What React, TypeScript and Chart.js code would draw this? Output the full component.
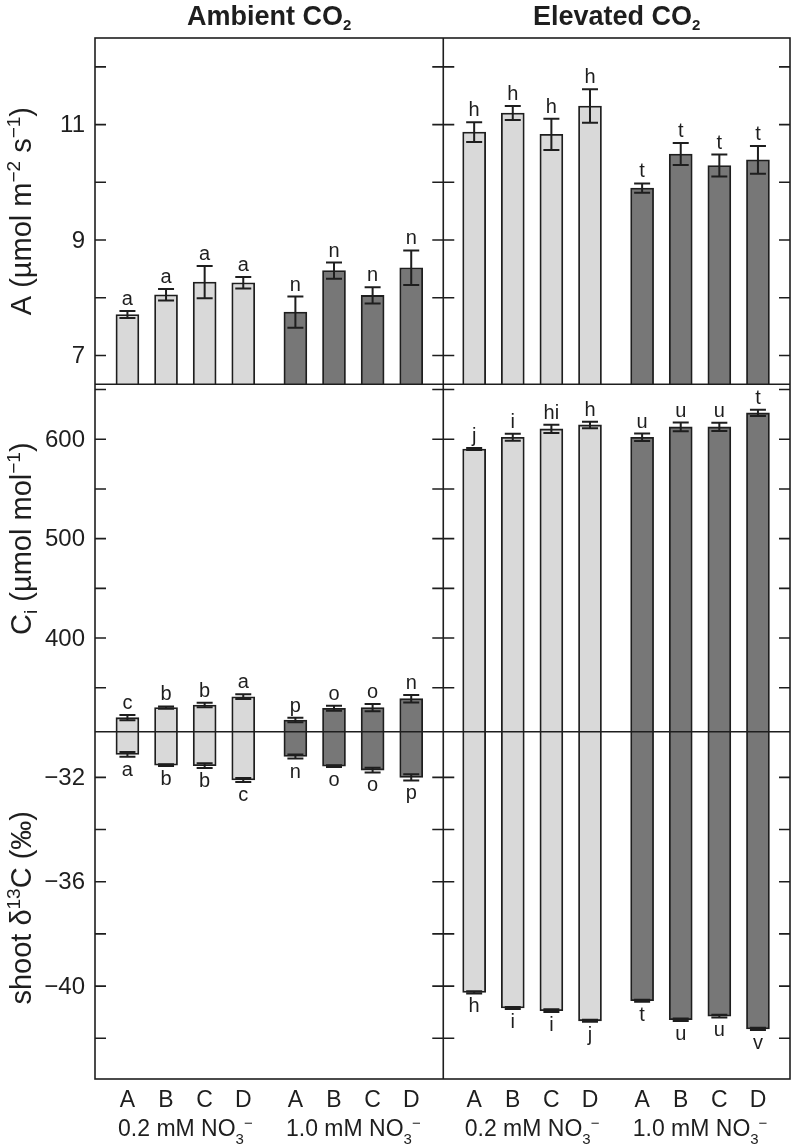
import React, { useEffect, useRef } from 'react';
import { Chart, registerables } from 'chart.js';

Chart.register(...registerables);

const W = 793;
const H = 1147;
const FONT = "'Liberation Sans', Arial, Helvetica, sans-serif";
const INK = '#1e1e1e';
const LIGHT = '#d9d9d9';
const DARK = '#777777';

// categories
const CULTIVARS = ['A', 'B', 'C', 'D'];
const NITRATE_LABELS = ['0.2 mM NO', '1.0 mM NO'];
const CO2_TITLES = ['Ambient CO', 'Elevated CO'];

// Net assimilation A (µmol m-2 s-1)
const A_AMB_02 = [7.71, 8.05, 8.27, 8.26];
const A_AMB_02_SE = [0.06, 0.10, 0.28, 0.10];
const A_AMB_02_SIG = ['a', 'a', 'a', 'a'];
const A_AMB_10 = [7.75, 8.47, 8.04, 8.52];
const A_AMB_10_SE = [0.27, 0.14, 0.14, 0.30];
const A_AMB_10_SIG = ['n', 'n', 'n', 'n'];
const A_ELE_02 = [10.87, 11.2, 10.83, 11.32];
const A_ELE_02_SE = [0.17, 0.12, 0.27, 0.29];
const A_ELE_02_SIG = ['h', 'h', 'h', 'h'];
const A_ELE_10 = [9.9, 10.49, 10.29, 10.39];
const A_ELE_10_SE = [0.08, 0.19, 0.19, 0.24];
const A_ELE_10_SIG = ['t', 't', 't', 't'];

// Intercellular CO2 Ci (µmol mol-1)
const CI_AMB_02 = [319.9, 330.0, 332.7, 341.0];
const CI_AMB_02_SE = [2.7, 1.2, 2.3, 2.4];
const CI_AMB_02_SIG = ['c', 'b', 'b', 'a'];
const CI_AMB_10 = [317.6, 329.4, 330.0, 339.0];
const CI_AMB_10_SE = [2.3, 2.5, 3.7, 3.7];
const CI_AMB_10_SIG = ['p', 'o', 'o', 'n'];
const CI_ELE_02 = [590.2, 602.0, 610.4, 614.4];
const CI_ELE_02_SE = [1.0, 3.5, 4.2, 3.3];
const CI_ELE_02_SIG = ['j', 'i', 'hi', 'h'];
const CI_ELE_10 = [602.0, 612.4, 612.4, 626.5];
const CI_ELE_10_SE = [3.8, 4.4, 4.2, 3.2];
const CI_ELE_10_SIG = ['u', 'u', 'u', 't'];

// shoot d13C (per mil)
const D_AMB_02 = [-31.12, -31.53, -31.55, -32.1];
const D_AMB_02_SE = [0.09, 0.03, 0.09, 0.08];
const D_AMB_02_SIG = ['a', 'b', 'b', 'c'];
const D_AMB_10 = [-31.2, -31.57, -31.72, -32.0];
const D_AMB_10_SE = [0.08, 0.03, 0.09, 0.12];
const D_AMB_10_SIG = ['n', 'o', 'o', 'p'];
const D_ELE_02 = [-40.24, -40.84, -40.94, -41.33];
const D_ELE_02_SE = [0.04, 0.04, 0.05, 0.04];
const D_ELE_02_SIG = ['h', 'i', 'i', 'j'];
const D_ELE_10 = [-40.56, -41.29, -41.15, -41.64];
const D_ELE_10_SE = [0.04, 0.05, 0.05, 0.04];
const D_ELE_10_SIG = ['t', 'u', 'u', 'v'];

// axes
const A_RANGE = [6.5, 12.5];
const CI_RANGE = [305.8, 655.3];
const D_RANGE = [-43.56, -30.25];
const A_TICKS = [7, 8, 9, 10, 11, 12];
const A_TICK_LABELS = ['7', '', '9', '', '11', ''];
const CI_TICKS = [350, 400, 450, 500, 550, 600, 650];
const CI_TICK_LABELS = ['', '400', '', '500', '', '600', ''];
const D_TICKS = [-42, -40, -38, -36, -34, -32];
const D_TICK_LABELS = ['', '\u221240', '', '\u221236', '', '\u221232'];
const A_TITLE_CENTER = 9.5;
const CI_TITLE_CENTER = 500;
const D_TITLE_CENTER = -37;
const X_RANGE = [-0.84, 17.16];
const COL_STEP = 8.98;
const GROUP_STEP = 4.35;
const DIVIDER_X = 8.18;

const xPos = (col: number, grp: number, i: number) => col * COL_STEP + grp * GROUP_STEP + i;

type Series = {
  axis: string;
  grp: number;
  values: number[];
  se: number[];
  sig: string[];
  below: boolean;
};

const SERIES: Series[] = [
  { axis: 'yA', grp: 0, values: [...A_AMB_02, ...A_ELE_02], se: [...A_AMB_02_SE, ...A_ELE_02_SE], sig: [...A_AMB_02_SIG, ...A_ELE_02_SIG], below: false },
  { axis: 'yA', grp: 1, values: [...A_AMB_10, ...A_ELE_10], se: [...A_AMB_10_SE, ...A_ELE_10_SE], sig: [...A_AMB_10_SIG, ...A_ELE_10_SIG], below: false },
  { axis: 'yC', grp: 0, values: [...CI_AMB_02, ...CI_ELE_02], se: [...CI_AMB_02_SE, ...CI_ELE_02_SE], sig: [...CI_AMB_02_SIG, ...CI_ELE_02_SIG], below: false },
  { axis: 'yC', grp: 1, values: [...CI_AMB_10, ...CI_ELE_10], se: [...CI_AMB_10_SE, ...CI_ELE_10_SE], sig: [...CI_AMB_10_SIG, ...CI_ELE_10_SIG], below: false },
  { axis: 'yD', grp: 0, values: [...D_AMB_02, ...D_ELE_02], se: [...D_AMB_02_SE, ...D_ELE_02_SE], sig: [...D_AMB_02_SIG, ...D_ELE_02_SIG], below: true },
  { axis: 'yD', grp: 1, values: [...D_AMB_10, ...D_ELE_10], se: [...D_AMB_10_SE, ...D_ELE_10_SE], sig: [...D_AMB_10_SIG, ...D_ELE_10_SIG], below: true },
];

const pointsFor = (s: Series) =>
  s.values.map((v, k) => ({ x: xPos(k < 4 ? 0 : 1, s.grp, k % 4), y: v }));

type Seg = { text: string; size: number; bold?: boolean; dy?: number };

function drawRich(ctx: CanvasRenderingContext2D, segs: Seg[], cx: number, baseline: number) {
  let total = 0;
  const widths = segs.map((s) => {
    ctx.font = `${s.bold ? 'bold ' : ''}${s.size}px ${FONT}`;
    const w = ctx.measureText(s.text).width;
    total += w;
    return w;
  });
  let x = cx - total / 2;
  ctx.textAlign = 'left';
  ctx.textBaseline = 'alphabetic';
  segs.forEach((s, i) => {
    ctx.font = `${s.bold ? 'bold ' : ''}${s.size}px ${FONT}`;
    ctx.fillText(s.text, x, baseline + (s.dy || 0));
    x += widths[i];
  });
}

const TICK = 11;
const CAP = 8;

const decorPlugin = {
  id: 'decor',
  afterDatasetsDraw(chart: any) {
    const ctx: CanvasRenderingContext2D = chart.ctx;
    ctx.save();
    SERIES.forEach((s, di) => {
      const meta = chart.getDatasetMeta(di);
      const ys = chart.scales[s.axis];
      meta.data.forEach((bar: any, j: number) => {
        const mean = s.values[j];
        const se = s.se[j];
        const yHi = ys.getPixelForValue(mean + se);
        const yLo = ys.getPixelForValue(mean - se);
        const x = bar.x;
        ctx.strokeStyle = INK;
        ctx.lineWidth = 2;
        ctx.beginPath();
        ctx.moveTo(x, yHi);
        ctx.lineTo(x, yLo);
        ctx.moveTo(x - CAP, yHi);
        ctx.lineTo(x + CAP, yHi);
        ctx.moveTo(x - CAP, yLo);
        ctx.lineTo(x + CAP, yLo);
        ctx.stroke();
        ctx.font = `20px ${FONT}`;
        ctx.fillStyle = INK;
        ctx.textAlign = 'center';
        ctx.textBaseline = 'alphabetic';
        if (s.below) ctx.fillText(s.sig[j], x, yLo + 19);
        else ctx.fillText(s.sig[j], x, yHi - 6);
      });
    });
    ctx.restore();
  },
  afterDraw(chart: any) {
    const ctx: CanvasRenderingContext2D = chart.ctx;
    const { left, right, top, bottom } = chart.chartArea;
    const xs = chart.scales.x;
    const yA = chart.scales.yA;
    const yC = chart.scales.yC;
    const yD = chart.scales.yD;
    const divX = xs.getPixelForValue(DIVIDER_X);
    ctx.save();
    ctx.strokeStyle = INK;
    ctx.fillStyle = INK;
    ctx.lineWidth = 1.6;
    ctx.strokeRect(left, top, right - left, bottom - top);
    ctx.beginPath();
    ctx.moveTo(divX, top);
    ctx.lineTo(divX, bottom);
    ctx.moveTo(left, yA.bottom);
    ctx.lineTo(right, yA.bottom);
    ctx.moveTo(left, yC.bottom);
    ctx.lineTo(right, yC.bottom);
    ctx.stroke();

    const axes: [any, number[], string[]][] = [
      [yA, A_TICKS, A_TICK_LABELS],
      [yC, CI_TICKS, CI_TICK_LABELS],
      [yD, D_TICKS, D_TICK_LABELS],
    ];
    ctx.font = `24px ${FONT}`;
    ctx.textAlign = 'right';
    ctx.textBaseline = 'middle';
    axes.forEach(([sc, ticks, labels]) => {
      ticks.forEach((t, i) => {
        const py = sc.getPixelForValue(t);
        ctx.beginPath();
        ctx.moveTo(left, py);
        ctx.lineTo(left + TICK, py);
        ctx.moveTo(divX - TICK, py);
        ctx.lineTo(divX + TICK, py);
        ctx.moveTo(right - TICK, py);
        ctx.lineTo(right, py);
        ctx.stroke();
        if (labels[i]) ctx.fillText(labels[i], left - 10, py + 1);
      });
    });

    // x category labels and group labels
    [0, 1].forEach((col) => {
      [0, 1].forEach((grp) => {
        CULTIVARS.forEach((c, i) => {
          ctx.font = `23px ${FONT}`;
          ctx.textAlign = 'center';
          ctx.textBaseline = 'alphabetic';
          ctx.fillText(c, xs.getPixelForValue(xPos(col, grp, i)), bottom + 28);
        });
        const gx = xs.getPixelForValue(xPos(col, grp, 1.5));
        drawRich(
          ctx,
          [
            { text: NITRATE_LABELS[grp], size: 23 },
            { text: '3', size: 15, dy: 8 },
            { text: '\u2212', size: 15, dy: -8 },
          ],
          gx,
          bottom + 57
        );
      });
      const cx = col === 0 ? (left + divX) / 2 : (divX + right) / 2;
      drawRich(
        ctx,
        [
          { text: CO2_TITLES[col], size: 27, bold: true },
          { text: '2', size: 15, bold: true, dy: 5 },
        ],
        cx,
        top - 13
      );
    });

    // y titles (rotated)
    const yTitles: [number, Seg[]][] = [
      [
        yA.getPixelForValue(A_TITLE_CENTER),
        [
          { text: 'A (\u00b5mol m', size: 29 },
          { text: '\u22122', size: 19, dy: -11 },
          { text: ' s', size: 29 },
          { text: '\u22121', size: 19, dy: -11 },
          { text: ')', size: 29 },
        ],
      ],
      [
        yC.getPixelForValue(CI_TITLE_CENTER),
        [
          { text: 'C', size: 29 },
          { text: 'i', size: 19, dy: 6 },
          { text: ' (\u00b5mol mol', size: 29 },
          { text: '\u22121', size: 19, dy: -11 },
          { text: ')', size: 29 },
        ],
      ],
      [
        yD.getPixelForValue(D_TITLE_CENTER),
        [
          { text: 'shoot \u03b4', size: 29 },
          { text: '13', size: 19, dy: -11 },
          { text: 'C (\u2030)', size: 29 },
        ],
      ],
    ];
    yTitles.forEach(([cy, segs]) => {
      ctx.save();
      ctx.translate(21, cy);
      ctx.rotate(-Math.PI / 2);
      drawRich(ctx, segs, 0, 10);
      ctx.restore();
    });
    ctx.restore();
  },
};

export default function App() {
  const ref = useRef<HTMLCanvasElement | null>(null);
  useEffect(() => {
    if (!ref.current) return;
    const chart = new Chart(ref.current, {
      type: 'bar',
      data: {
        datasets: SERIES.map((s) => ({
          data: pointsFor(s) as any,
          yAxisID: s.axis,
          xAxisID: 'x',
          grouped: false,
          barThickness: 23,
          backgroundColor: s.grp === 0 ? LIGHT : DARK,
          borderColor: INK,
          borderWidth: 1.8,
          borderSkipped: 'start',
        })),
      },
      options: {
        responsive: false,
        devicePixelRatio: 1,
        animation: false,
        layout: { padding: { left: 95, top: 38, right: 3, bottom: 68 } },
        plugins: { legend: { display: false }, tooltip: { enabled: false } },
        scales: {
          x: { type: 'linear', display: false, offset: false, min: X_RANGE[0], max: X_RANGE[1] },
          yD: { type: 'linear', display: false, position: 'left', stack: 'panels', stackWeight: 347.3, min: D_RANGE[0], max: D_RANGE[1] },
          yC: { type: 'linear', display: false, position: 'left', stack: 'panels', stackWeight: 347.4, min: CI_RANGE[0], max: CI_RANGE[1] },
          yA: { type: 'linear', display: false, position: 'left', stack: 'panels', stackWeight: 346.3, min: A_RANGE[0], max: A_RANGE[1] },
        },
      } as any,
      plugins: [decorPlugin],
    });
    return () => chart.destroy();
  }, []);
  return (
    <div style={{ position: 'absolute', left: 0, top: 0, width: W, height: H, background: '#fff' }}>
      <canvas ref={ref} width={W} height={H} />
    </div>
  );
}
